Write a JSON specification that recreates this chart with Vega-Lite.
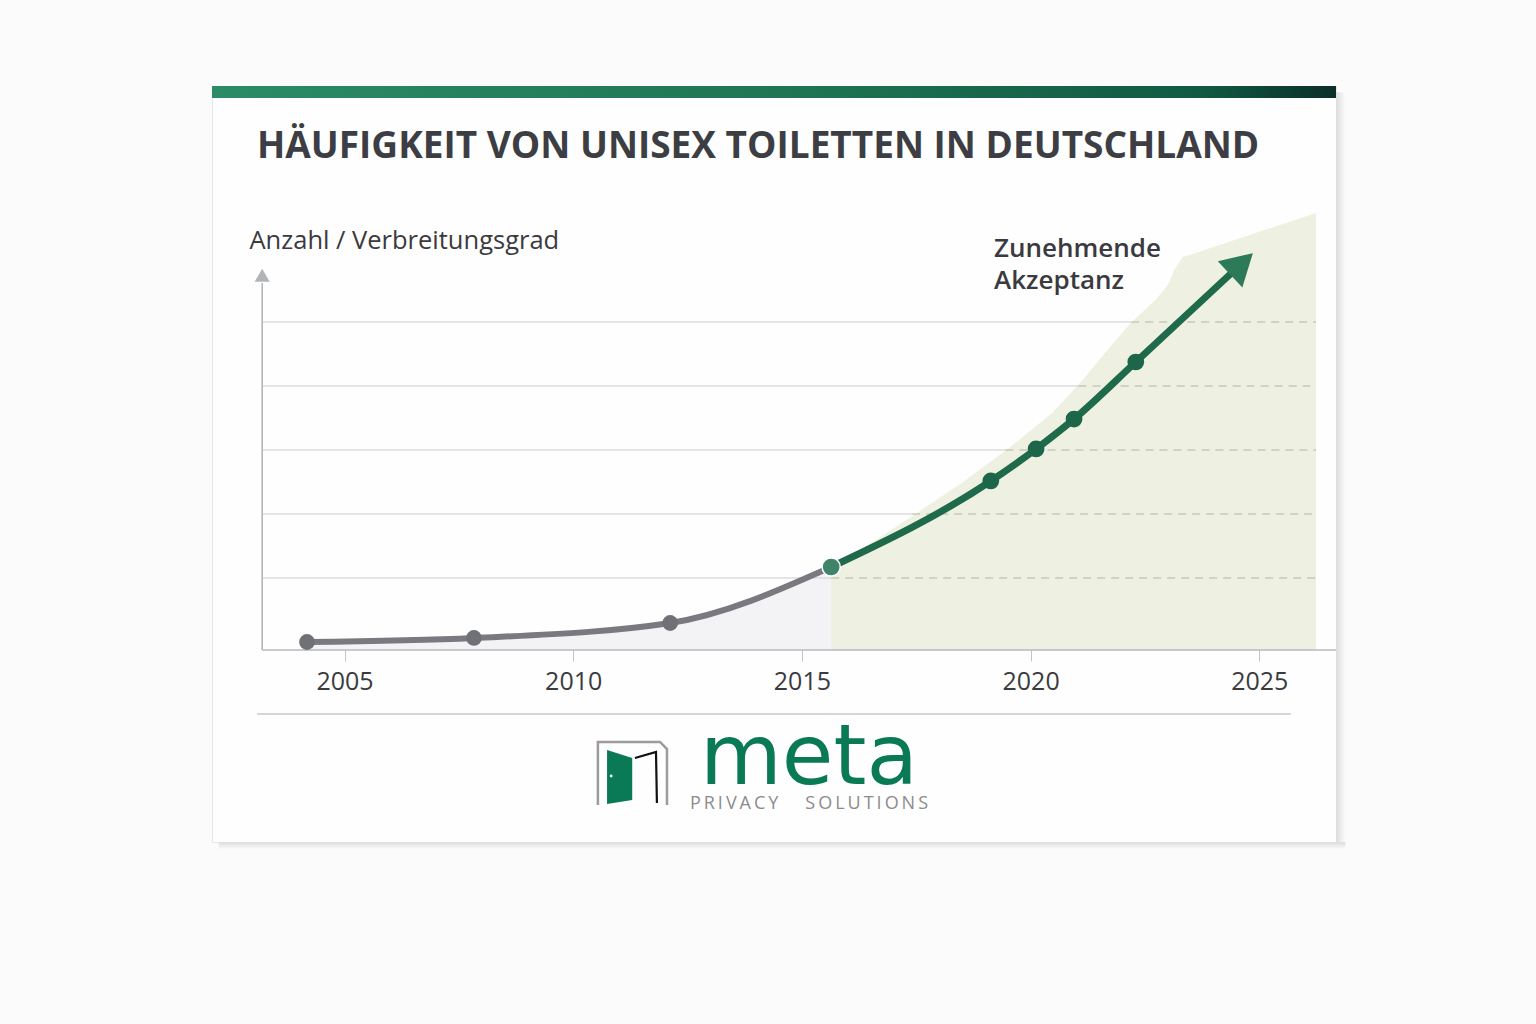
{
  "$schema": "https://vega.github.io/schema/vega-lite/v6.json",
  "width": 1124,
  "height": 756,
  "autosize": {"type": "none"},
  "padding": {"left": 212, "top": 86, "right": 200, "bottom": 182},
  "background": "#fbfbfb",
  "title": {
    "text": "HÄUFIGKEIT VON UNISEX TOILETTEN IN DEUTSCHLAND",
    "anchor": "start",
    "frame": "group",
    "baseline": "alphabetic",
    "offset": -109,
    "dx": 45,
    "font": "Open Sans",
    "fontSize": 37,
    "fontWeight": "bold",
    "color": "#3d3e44"
  },
  "datasets": {
    "gray": [
      {"year": 2004.18, "value": 0.0, "marker": "dot"},
      {"year": 2007.83, "value": 0.63, "marker": "dot"},
      {"year": 2012.12, "value": 2.97, "marker": "dot"},
      {"year": 2015.64, "value": 11.72, "marker": "join"}
    ],
    "green": [
      {"year": 2015.64, "value": 11.72, "marker": "join"},
      {"year": 2019.13, "value": 25.16, "marker": "dot"},
      {"year": 2020.12, "value": 30.16, "marker": "dot"},
      {"year": 2020.95, "value": 34.84, "marker": "dot"},
      {"year": 2022.30, "value": 43.75, "marker": "dot"},
      {"year": 2024.61, "value": 59.1, "marker": "tip"}
    ],
    "acceptance": [
      {"year": 2015.64, "value": 11.72},
      {"year": 2016.5, "value": 15.4},
      {"year": 2017.385, "value": 19.53},
      {"year": 2018.5, "value": 24.9},
      {"year": 2019.528, "value": 30.3},
      {"year": 2020.49, "value": 35.9},
      {"year": 2021.146, "value": 41.0},
      {"year": 2021.7, "value": 45.8},
      {"year": 2022.19, "value": 49.84},
      {"year": 2022.75, "value": 53.6},
      {"year": 2023.0, "value": 55.8},
      {"year": 2023.15, "value": 58.3},
      {"year": 2023.32, "value": 60.1},
      {"year": 2026.24, "value": 67.03}
    ],
    "grid": [
      {"value": 10, "year": 2003.2, "split": 2015.64, "end": 2026.24},
      {"value": 20, "year": 2003.2, "split": 2017.41, "end": 2026.24},
      {"value": 30, "year": 2003.2, "split": 2019.45, "end": 2026.24},
      {"value": 40, "year": 2003.2, "split": 2021.05, "end": 2026.24},
      {"value": 50, "year": 2003.2, "split": 2022.2, "end": 2026.24}
    ],
    "frame": [
      {"part": "topbar", "year": 2002.103, "year2": 2026.677, "value": 86.875, "value2": 85.0},
      {"part": "shadowRight", "year": 2026.677, "year2": 2026.88, "value": 85.9, "value2": -31.25},
      {"part": "shadowBottom", "year": 2002.25, "year2": 2026.88, "value": -31.25, "value2": -32.4},
      {"part": "yaxis", "year": 2003.2, "value": -1.25, "value2": 56.1},
      {"part": "xaxis", "year": 2003.2, "year2": 2026.677, "value": -1.25},
      {"part": "separator", "year": 2003.09, "year2": 2025.69, "value": -11.25}
    ],
    "yarrow": [{"year": 2003.2, "value": 57.3}],
    "notes": [
      {"label": "Zunehmende\nAkzeptanz", "year": 2019.2, "value": 60.16}
    ],
    "logoFrame": [
      {"i": 0, "year": 2010.54, "value": -25.47},
      {"i": 1, "year": 2010.54, "value": -15.625},
      {"i": 2, "year": 2011.9, "value": -15.625},
      {"i": 3, "year": 2012.05, "value": -16.72},
      {"i": 4, "year": 2012.05, "value": -25.47}
    ],
    "logoDoor": [
      {"year": 2010.74, "value": -16.875, "value2": -25.31},
      {"year": 2011.29, "value": -18.125, "value2": -24.69}
    ],
    "logoKnob": [{"year": 2010.83, "value": -20.94}],
    "logoJamb": [
      {"i": 0, "year": 2011.35, "value": -18.125},
      {"i": 1, "year": 2011.81, "value": -17.19},
      {"i": 2, "year": 2011.83, "value": -25.16}
    ],
    "logoText": [
      {"part": "name", "label": "meta", "year": 2015.155, "value": -22.19},
      {"part": "claim", "label": "P\u2009R\u2009I\u2009V\u2009A\u2009C\u2009Y\u2003\u2002S\u2009O\u2009L\u2009U\u2009T\u2009I\u2009O\u2009N\u2009S", "year": 2015.155, "value": -26.09}
    ]
  },
  "encoding": {
    "x": {
      "field": "year",
      "type": "quantitative",
      "scale": {"domain": [2002.103, 2026.677], "nice": false, "zero": false},
      "axis": {
        "values": [2005, 2010, 2015, 2020, 2025],
        "format": "d",
        "title": null,
        "orient": "bottom",
        "offset": -192,
        "domain": false,
        "grid": false,
        "tickSize": 11,
        "tickColor": "#c4c5c9",
        "labelPadding": 8,
        "labelFont": "Open Sans",
        "labelFontSize": 25,
        "labelColor": "#3a3a3f",
        "labelFlush": false
      }
    },
    "y": {
      "field": "value",
      "type": "quantitative",
      "scale": {"domain": [-31.25, 86.875], "nice": false, "zero": false},
      "axis": {
        "title": "Anzahl / Verbreitungsgrad",
        "labels": false,
        "ticks": false,
        "domain": false,
        "grid": false,
        "titleAngle": 0,
        "titleAlign": "left",
        "titleBaseline": "alphabetic",
        "titleX": 37,
        "titleY": 162,
        "titleFont": "Open Sans",
        "titleFontSize": 25.5,
        "titleFontWeight": "normal",
        "titleColor": "#3a3a3f"
      }
    }
  },
  "layer": [
    {
      "data": {"name": "frame"},
      "transform": [{"filter": "datum.part === 'shadowRight'"}],
      "mark": {
        "type": "rect",
        "fill": {
          "gradient": "linear", "x1": 0, "y1": 0, "x2": 1, "y2": 0,
          "stops": [
            {"offset": 0, "color": "#dcdcde"},
            {"offset": 1, "color": "#fbfbfb"}
          ]
        }
      },
      "encoding": {"x2": {"field": "year2"}, "y2": {"field": "value2"}}
    },
    {
      "data": {"name": "frame"},
      "transform": [{"filter": "datum.part === 'shadowBottom'"}],
      "mark": {
        "type": "rect",
        "fill": {
          "gradient": "linear", "x1": 0, "y1": 0, "x2": 0, "y2": 1,
          "stops": [
            {"offset": 0, "color": "#dcdcde"},
            {"offset": 1, "color": "#fbfbfb"}
          ]
        }
      },
      "encoding": {"x2": {"field": "year2"}, "y2": {"field": "value2"}}
    },
    {
      "data": {"name": "frame"},
      "transform": [{"filter": "datum.part === 'topbar'"}],
      "mark": {
        "type": "rect",
        "fill": {
          "gradient": "linear", "x1": 0, "y1": 0, "x2": 1, "y2": 0,
          "stops": [
            {"offset": 0, "color": "#2b8c67"},
            {"offset": 0.5, "color": "#1f7654"},
            {"offset": 0.88, "color": "#105a43"},
            {"offset": 1, "color": "#0c2e29"}
          ]
        }
      },
      "encoding": {"x2": {"field": "year2"}, "y2": {"field": "value2"}}
    },
    {
      "data": {"name": "gray"},
      "mark": {"type": "area", "interpolate": "monotone", "color": "#f3f3f6"},
      "encoding": {"y2": {"datum": -1.25}}
    },
    {
      "data": {"name": "acceptance"},
      "mark": {"type": "area", "interpolate": "linear", "color": "#eef0e1"},
      "encoding": {"y2": {"datum": -1.25}}
    },
    {
      "data": {"name": "grid"},
      "mark": {"type": "rule", "color": "#dcdcdf", "strokeWidth": 1.3},
      "encoding": {"x2": {"field": "split"}}
    },
    {
      "data": {"name": "grid"},
      "mark": {"type": "rule", "color": "#c6c7ba", "strokeWidth": 1.5, "strokeDash": [8, 6]},
      "encoding": {"x": {"field": "split", "type": "quantitative"}, "x2": {"field": "end"}}
    },
    {
      "data": {"name": "frame"},
      "transform": [{"filter": "datum.part === 'separator'"}],
      "mark": {"type": "rule", "color": "#c9c9cd", "strokeWidth": 1.5},
      "encoding": {"x2": {"field": "year2"}}
    },
    {
      "data": {"name": "frame"},
      "transform": [{"filter": "datum.part === 'yaxis'"}],
      "mark": {"type": "rule", "color": "#b4b5ba", "strokeWidth": 1.6},
      "encoding": {"y2": {"field": "value2"}}
    },
    {
      "data": {"name": "yarrow"},
      "mark": {"type": "point", "shape": "triangle-up", "filled": true, "size": 225, "color": "#b2b3b8", "opacity": 1},
      "encoding": {}
    },
    {
      "data": {"name": "frame"},
      "transform": [{"filter": "datum.part === 'xaxis'"}],
      "mark": {"type": "rule", "color": "#b8b9be", "strokeWidth": 1.6},
      "encoding": {"x2": {"field": "year2"}}
    },
    {
      "data": {"name": "gray"},
      "mark": {"type": "line", "interpolate": "monotone", "color": "#797a80", "strokeWidth": 6, "strokeCap": "round"},
      "encoding": {}
    },
    {
      "data": {"name": "green"},
      "mark": {"type": "line", "interpolate": "monotone", "color": "#1f6a4b", "strokeWidth": 7, "strokeCap": "round"},
      "encoding": {}
    },
    {
      "data": {"name": "gray"},
      "transform": [{"filter": "datum.marker === 'dot'"}],
      "mark": {"type": "point", "filled": true, "size": 250, "color": "#707177", "opacity": 1},
      "encoding": {}
    },
    {
      "data": {"name": "green"},
      "transform": [{"filter": "datum.marker === 'join'"}],
      "mark": {"type": "point", "filled": true, "size": 330, "fill": "#3f8469", "stroke": "#ffffff", "strokeWidth": 1.5, "opacity": 1},
      "encoding": {}
    },
    {
      "data": {"name": "green"},
      "transform": [{"filter": "datum.marker === 'dot'"}],
      "mark": {"type": "point", "filled": true, "size": 280, "color": "#1e6649", "opacity": 1},
      "encoding": {}
    },
    {
      "data": {"name": "green"},
      "transform": [{"filter": "datum.marker === 'tip'"}],
      "mark": {"type": "point", "shape": "triangle-up", "filled": true, "size": 1296, "angle": 47, "color": "#2d7a58", "opacity": 1},
      "encoding": {}
    },
    {
      "data": {"name": "notes"},
      "mark": {"type": "text", "align": "left", "baseline": "alphabetic", "lineBreak": "\n", "lineHeight": 32, "font": "Open Sans", "fontSize": 26, "fontWeight": 600, "color": "#3a3a40"},
      "encoding": {"text": {"field": "label"}}
    },
    {
      "data": {"name": "logoFrame"},
      "mark": {"type": "line", "color": "#9c9c9c", "strokeWidth": 2.5},
      "encoding": {"order": {"field": "i"}}
    },
    {
      "data": {"name": "logoDoor"},
      "mark": {"type": "area", "color": "#0a7a56"},
      "encoding": {"y2": {"field": "value2"}}
    },
    {
      "data": {"name": "logoKnob"},
      "mark": {"type": "point", "filled": true, "size": 8, "color": "#ffffff", "opacity": 1},
      "encoding": {}
    },
    {
      "data": {"name": "logoJamb"},
      "mark": {"type": "line", "color": "#111111", "strokeWidth": 2.2},
      "encoding": {"order": {"field": "i"}}
    },
    {
      "data": {"name": "logoText"},
      "transform": [{"filter": "datum.part === 'name'"}],
      "mark": {"type": "text", "align": "center", "baseline": "alphabetic", "font": "DejaVu Sans", "fontSize": 84, "color": "#0a7a56"},
      "encoding": {"text": {"field": "label"}}
    },
    {
      "data": {"name": "logoText"},
      "transform": [{"filter": "datum.part === 'claim'"}],
      "mark": {"type": "text", "align": "center", "baseline": "alphabetic", "font": "Open Sans", "fontSize": 18, "color": "#8c8c8c"},
      "encoding": {"text": {"field": "label"}}
    }
  ],
  "config": {
    "font": "Open Sans",
    "view": {"fill": "#fefefe", "stroke": "#e6e6e8", "strokeWidth": 1}
  }
}
